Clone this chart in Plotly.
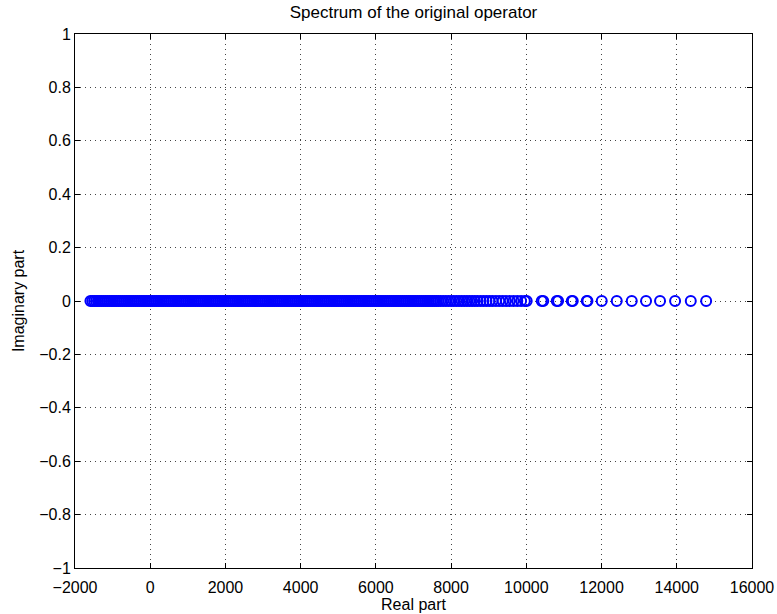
import plotly.graph_objects as go

# Eigenvalues (real parts); imaginary parts are all zero
real_parts = [
    -1590, -1540, -1490, -1440, -1390, -1340, -1290, -1240, -1190, -1140,
    -1090, -1040, -990, -940, -890, -840, -790, -740, -690, -640,
    -590, -540, -490, -440, -390, -340, -290, -240, -190, -140,
    -90, -40, 10, 60, 110, 160, 210, 260, 310, 360,
    410, 460, 510, 560, 610, 660, 710, 760, 810, 860,
    910, 960, 1010, 1060, 1110, 1160, 1210, 1260, 1310, 1360,
    1410, 1460, 1510, 1560, 1610, 1660, 1710, 1760, 1810, 1860,
    1910, 1960, 2010, 2060, 2110, 2160, 2210, 2260, 2310, 2360,
    2410, 2460, 2510, 2560, 2610, 2660, 2710, 2760, 2810, 2860,
    2910, 2960, 3010, 3060, 3110, 3160, 3210, 3260, 3310, 3360,
    3410, 3460, 3510, 3560, 3610, 3660, 3710, 3760, 3810, 3860,
    3910, 3960, 4010, 4060, 4110, 4160, 4210, 4260, 4310, 4360,
    4410, 4460, 4510, 4560, 4610, 4660, 4710, 4760, 4810, 4860,
    4910, 4960, 5010, 5060, 5110, 5160, 5210, 5260, 5310, 5360,
    5410, 5460, 5510, 5560, 5610, 5660, 5710, 5760, 5810, 5860,
    5910, 5960, 6010, 6060, 6110, 6160, 6210, 6260, 6310, 6360,
    6410, 6460, 6510, 6560, 6610, 6660, 6710, 6760, 6810, 6860,
    6910, 6960, 7010, 7060, 7110, 7160, 7210, 7260, 7310, 7360,
    7410, 7460, 7510, 7560, 7610, 7660, 7720, 7790, 7860, 7930,
    8000, 8070, 8140, 8210, 8280, 8350, 8420, 8490, 8560, 8630,
    8700, 8780, 8860, 8940, 9020, 9100, 9190, 9280, 9370, 9460,
    9560, 9660, 9760, 9860,
    9960, 10010, 10409, 10450, 10808, 10845, 11207, 11235, 11606, 11625,
    12005, 12404, 12803, 13183, 13555, 13955, 14372, 14781,
]
imag_parts = [0] * len(real_parts)

x_ticks = [-2000, 0, 2000, 4000, 6000, 8000, 10000, 12000, 14000, 16000]
x_labels = ["\u22122000", "0", "2000", "4000", "6000", "8000", "10000",
            "12000", "14000", "16000"]
y_ticks = [-1, -0.8, -0.6, -0.4, -0.2, 0, 0.2, 0.4, 0.6, 0.8, 1]
y_labels = ["\u22121", "\u22120.8", "\u22120.6", "\u22120.4", "\u22120.2", "0",
            "0.2", "0.4", "0.6", "0.8", "1"]

fig = go.Figure()
fig.add_trace(go.Scatter(
    x=real_parts, y=imag_parts, mode="markers",
    marker=dict(symbol="circle-open", size=10, color="#0000ff",
                line=dict(width=2, color="#0000ff")),
    showlegend=False,
))

font = "Liberation Sans, Arial, Helvetica, sans-serif"
axis_common = dict(
    showline=True, mirror="ticks", linecolor="black", linewidth=1,
    ticks="inside", ticklen=5, tickcolor="black",
    showgrid=True, gridcolor="#444444", gridwidth=0.6, griddash="1px,4px",
    zeroline=False, automargin=False,
    tickfont=dict(family=font, size=16, color="black"),
)

fig.update_layout(
    width=777, height=614,
    margin=dict(l=75, r=25, t=34, b=46),
    paper_bgcolor="white", plot_bgcolor="white",
    font=dict(family=font, size=16, color="black"),
    title=dict(text="Spectrum of the original operator", x=0.5, xref="paper",
               y=1 - 12 / 614, yref="container", yanchor="middle",
               font=dict(family=font, size=17, color="black")),
    xaxis=dict(range=[-2000, 16000], tickvals=x_ticks, ticktext=x_labels,
               ticklabelstandoff=5,
               title=dict(text="Real part", standoff=2,
                          font=dict(family=font, size=16)),
               **axis_common),
    yaxis=dict(range=[-1, 1], tickvals=y_ticks, ticktext=y_labels,
               title=dict(text="Imaginary part", standoff=10,
                          font=dict(family=font, size=16)),
               **axis_common),
)

fig.write_html("out.html")
